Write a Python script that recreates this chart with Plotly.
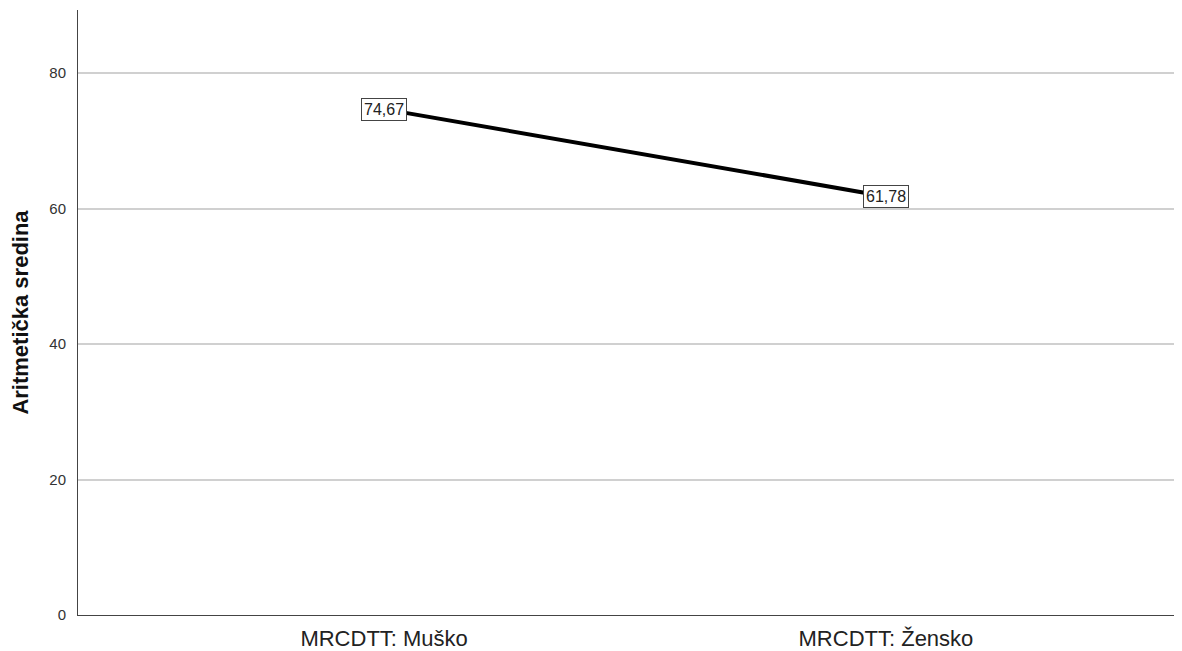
import plotly.graph_objects as go

categories = ["MRCDTT: Muško", "MRCDTT: Žensko"]
means = [74.67, 61.78]
labels = ["74,67", "61,78"]
y_ticks = [0, 20, 40, 60, 80]

fig = go.Figure()
fig.add_trace(go.Scatter(
    x=categories, y=means, mode="lines",
    line=dict(color="black", width=4), showlegend=False, hoverinfo="skip"))

for c, v, t in zip(categories, means, labels):
    fig.add_annotation(x=c, y=v, text=t, showarrow=False,
                       font=dict(family="Liberation Sans, Arial", size=16, color="#222"),
                       bgcolor="white", bordercolor="#444", borderwidth=1, borderpad=2)

fig.update_layout(
    width=1174, height=643,
    margin=dict(l=70, r=0, t=2, b=36, autoexpand=False),
    paper_bgcolor="white", plot_bgcolor="white",
    font=dict(family="Liberation Sans, Arial", color="#222"),
)
fig.update_xaxes(type="category", range=[-0.61, 1.59], showgrid=False,
                 showline=True, linecolor="#444", linewidth=1,
                 ticks="", ticklabelstandoff=4, automargin=False,
                 tickfont=dict(size=22, color="#222"))
fig.update_yaxes(range=[0, 89.3], tickvals=y_ticks, showgrid=True,
                 gridcolor="#d0d0d0", gridwidth=1.5, zeroline=False,
                 showline=True, linecolor="#444", linewidth=1,
                 ticks="", ticklabelstandoff=8, automargin=False,
                 tickfont=dict(size=15, color="#333"),
                 title=dict(text="<b>Aritmetička sredina</b>", font=dict(size=22, color="#111"), standoff=15))

fig.write_html("out.html")
